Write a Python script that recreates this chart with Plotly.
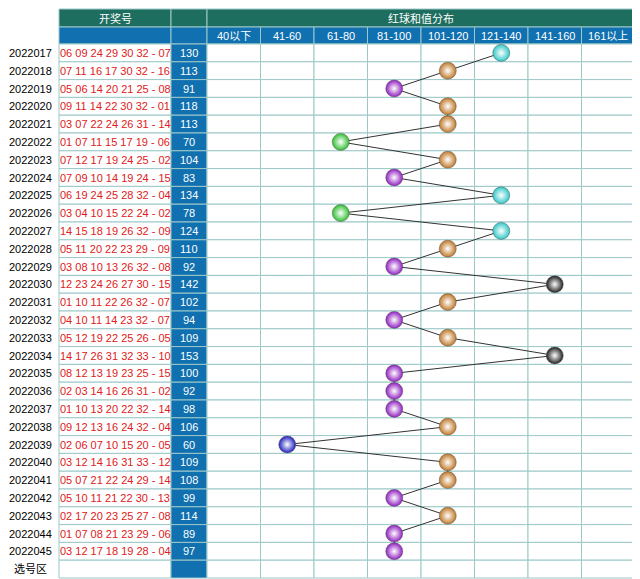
import plotly.graph_objects as go

periods = [f"20220{n}" for n in range(17, 46)]
numbers = ["06 09 24 29 30 32 - 07","07 11 16 17 30 32 - 16","05 06 14 20 21 25 - 08","09 11 14 22 30 32 - 01",
"03 07 22 24 26 31 - 14","01 07 11 15 17 19 - 06","07 12 17 19 24 25 - 02","07 09 10 14 19 24 - 15",
"06 19 24 25 28 32 - 04","03 04 10 15 22 24 - 02","14 15 18 19 26 32 - 09","05 11 20 22 23 29 - 09",
"03 08 10 13 26 32 - 08","12 23 24 26 27 30 - 15","01 10 11 22 26 32 - 07","04 10 11 14 23 32 - 07",
"05 12 19 22 25 26 - 05","14 17 26 31 32 33 - 10","08 12 13 19 23 25 - 15","02 03 14 16 26 31 - 02",
"01 10 13 20 22 32 - 14","09 12 13 16 24 32 - 04","02 06 07 10 15 20 - 05","03 12 14 16 31 33 - 12",
"05 07 21 22 24 29 - 14","05 10 11 21 22 30 - 13","02 17 20 23 25 27 - 08","01 07 08 21 23 29 - 06",
"03 12 17 18 19 28 - 04"]
sums = [130,113,91,118,113,70,104,83,134,78,124,110,92,142,102,94,109,153,100,92,98,106,60,109,108,99,114,89,97]
zones = ["40以下","41-60","61-80","81-100","101-120","121-140","141-160","161以上"]
zone_colors = ["#888888","#2020c0","#30c030","#9020c0","#c07828","#30c8c8","#202020","#888888"]

X0, X1, X2, X3, XE = 59, 171, 207, 207, 635
CW = (XE - X3) / 8
Y0, Y1, Y2, RH = 9, 27, 44, 17.8
N = len(periods)
grid = "#9cc8c8"
FONT = "Liberation Sans, Noto Sans CJK SC"

def zone_idx(s):
    if s <= 40: return 0
    if s > 160: return 7
    return (s - 41) // 20 + 1

shapes = []
def rect(x0, y0, x1, y1, fill):
    shapes.append(dict(type="rect", x0=x0, x1=x1, y0=y0, y1=y1, fillcolor=fill, line=dict(color=grid, width=1), layer="below"))

rect(X0, Y0, X1, Y1, "#1e6e60"); rect(X1, Y0, X2, Y1, "#1e6e60"); rect(X3, Y0, XE, Y1, "#1e6e60")
rect(X0, Y1, X1, Y2, "#1070b0"); rect(X1, Y1, X2, Y2, "#1070b0")
for i in range(8):
    rect(X3 + i*CW, Y1, X3 + (i+1)*CW, Y2, "#1070b0")
for r in range(N + 1):
    ya, yb = Y2 + r*RH, Y2 + (r+1)*RH
    rect(X0, ya, X1, yb, "white"); rect(X1, ya, X2, yb, "#1070b0")
    for i in range(8):
        rect(X3 + i*CW, ya, X3 + (i+1)*CW, yb, "white")

ann = []
def t(x, y, s, c, size=11):
    ann.append(dict(x=x, y=y, text=s, showarrow=False, font=dict(color=c, size=size, family=FONT)))
t((X0+X1)/2, (Y0+Y1)/2, "开奖号", "white")
t((X3+XE)/2, (Y0+Y1)/2, "红球和值分布", "white")
for i, z in enumerate(zones):
    t(X3 + (i+0.5)*CW, (Y1+Y2)/2, z, "white")
for r in range(N):
    yc = Y2 + (r+0.5)*RH
    t(30, yc, periods[r], "black", 11)
    t((X0+X1)/2, yc, numbers[r], "#e02020", 11)
    t((X1+X2)/2, yc, str(sums[r]), "white", 11)
t(30, Y2 + (N+0.5)*RH, "选号区", "black", 11)

xs = [X3 + (zone_idx(s)+0.5)*CW for s in sums]
ys = [Y2 + (r+0.5)*RH for r in range(N)]
fig = go.Figure()
fig.add_trace(go.Scatter(x=xs, y=ys, mode="lines", line=dict(color="#333333", width=1), hoverinfo="skip"))
fig.add_trace(go.Scatter(x=xs, y=ys, mode="markers",
    marker=dict(size=17, color=[zone_colors[zone_idx(s)] for s in sums], line=dict(color="#555555", width=0.5),
                gradient=dict(type="radial", color="#ffffff")), hoverinfo="skip"))
fig.update_layout(width=640, height=579, margin=dict(l=0, r=0, t=0, b=0), showlegend=False,
    plot_bgcolor="white", paper_bgcolor="white", shapes=shapes, annotations=ann,
    xaxis=dict(range=[8, 648], visible=False, fixedrange=True),
    yaxis=dict(range=[587, 8], visible=False, fixedrange=True))
fig.write_html("out.html")
